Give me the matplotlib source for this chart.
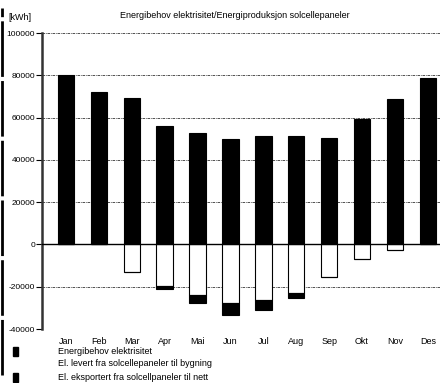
import matplotlib
matplotlib.use("Agg")
import matplotlib.pyplot as plt
import numpy as np

plt.rcParams['font.family'] = ['Liberation Sans Narrow', 'Liberation Sans', 'DejaVu Sans']

months = ["Jan", "Feb", "Mar", "Apr", "Mai", "Jun", "Jul", "Aug", "Sep", "Okt", "Nov", "Des"]
behov = [80200, 72000, 69200, 56000, 52500, 50000, 51500, 51500, 50500, 59500, 69000, 78500]
levert = [0, 0, -13000, -19800, -24000, -27800, -26400, -23000, -15200, -7100, -2700, 0]
eksportert = [0, 0, 0, -1200, -3800, -5700, -4400, -2300, 0, 0, 0, 0]

yticks = [100000, 80000, 60000, 40000, 20000, 0, -20000, -40000]
legend_labels = ["Energibehov elektrisitet",
                 "El. levert fra solcellepaneler til bygning",
                 "El. eksportert fra solcellpaneler til nett"]

fig = plt.figure(figsize=(4.4, 3.83), dpi=100)
ax = fig.add_axes([42/440, 1 - 329/383, 1 - 42/440, (329 - 33)/383])

x = np.arange(len(months))
w = 0.5
ax.bar(x, behov, w, color="black", edgecolor="black", linewidth=0.8, zorder=3)
ax.bar(x, levert, w, color="white", edgecolor="black", linewidth=0.8, zorder=3)
ax.bar(x, eksportert, w, bottom=levert, color="black", edgecolor="black", linewidth=0.8, zorder=3)

ax.set_ylim(-40000, 100000)
ax.set_xlim(-0.73, 11.37)
for t in yticks:
    if t == 0:
        ax.axhline(0, color="black", linewidth=1.0, zorder=4)
    else:
        ax.axhline(t, color="#333333", linewidth=0.6, linestyle=(0, (3, 1, 1, 1)), zorder=1)

ax.set_yticks(yticks)
ax.set_yticklabels([str(t) for t in yticks], fontsize=6)
ax.set_xticks(x)
ax.set_xticklabels(months, fontsize=6.5)
ax.tick_params(axis="x", length=0, pad=6)
ax.tick_params(axis="y", length=4, width=0.8, pad=1, direction="out")
for s in ["top", "right", "bottom"]:
    ax.spines[s].set_visible(False)
ax.spines["left"].set_linewidth(1.8)
ax.spines["left"].set_color("#333333")

fig.text(235/440, 1 - 16/383, "Energibehov elektrisitet/Energiproduksjon solcellepaneler",
         ha="center", va="center", fontsize=6.5)
fig.text(8/440, 1 - 17/383, "[kWh]", ha="left", va="center", fontsize=6.5)

# legend at the bottom
for i, lab in enumerate(legend_labels):
    yy = 1 - (351 + 13 * i) / 383
    if i != 1:
        fig.patches.append(plt.Rectangle((13/440, yy - 4.5/383), 5/440, 9/383,
                                         transform=fig.transFigure, color="black"))
    fig.text(58/440, yy, lab, ha="left", va="center", fontsize=6.5)

# border strip on the far left
fig.add_artist(plt.Line2D([1.5/440, 1.5/440], [0.02, 0.98], transform=fig.transFigure,
                          color="black", linewidth=2.0, linestyle=(0, (20, 1.5))))

fig.savefig("out.png", dpi=100)
